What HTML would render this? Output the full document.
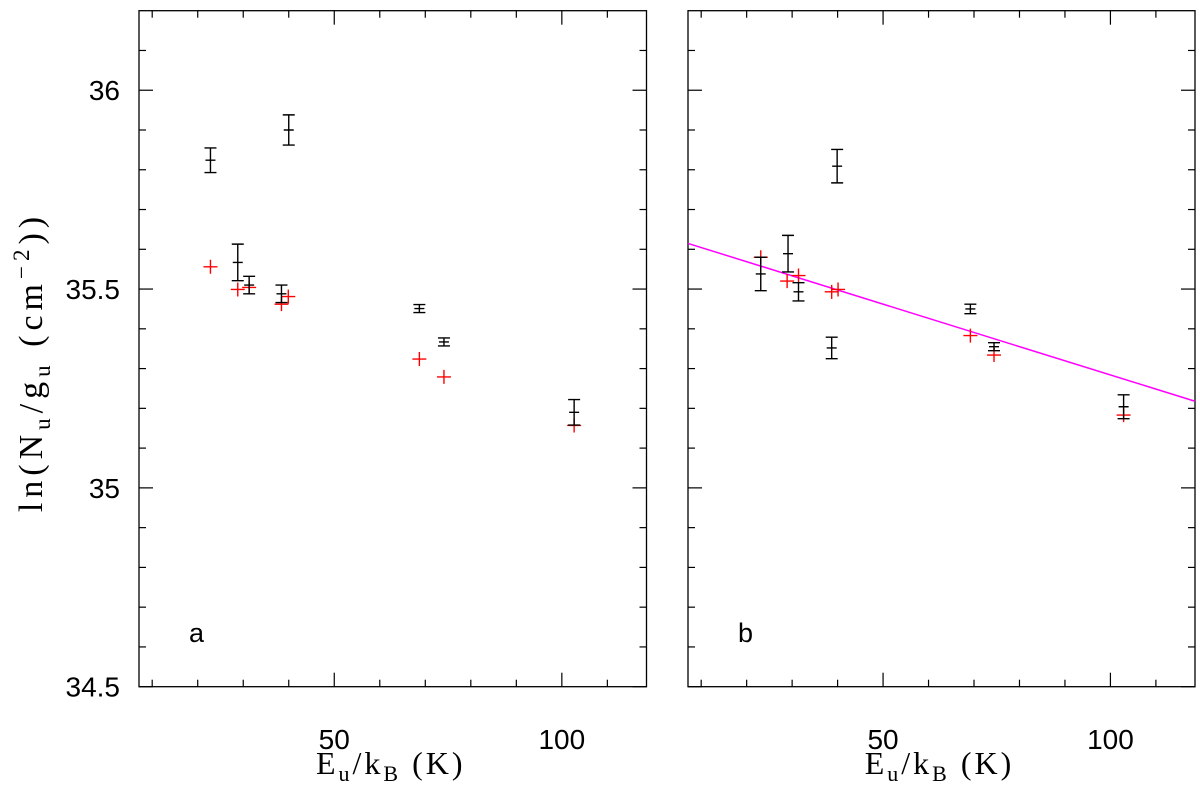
<!DOCTYPE html>
<html><head><meta charset="utf-8"><style>
html,body{margin:0;padding:0;background:#fff;}
svg{display:block;}
</style></head><body>
<svg id="chart" width="1200" height="785" viewBox="0 0 1200 785" xmlns="http://www.w3.org/2000/svg">
<text transform="translate(42,362) rotate(-90)" text-anchor="middle" font-family="Liberation Serif, serif" font-size="34" letter-spacing="5">ln(N<tspan font-size="23" dy="8">u</tspan><tspan dy="-8">/g</tspan><tspan font-size="23" dy="8">u</tspan><tspan dy="-8"> (cm</tspan><tspan font-size="23" dy="-13">−2</tspan><tspan dy="13">))</tspan></text>
</svg>
<script>
// Panel a data
const aBlackX = [22.8, 40.0, 28.8, 31.3, 38.4, 68.7, 74.1, 102.7];
const aBlackY = [35.824, 35.900, 35.567, 35.510, 35.488, 35.451, 35.367, 35.190];
const aBlackErr = [0.031, 0.038, 0.046, 0.022, 0.022, 0.010, 0.010, 0.032];
const aRedX = [22.8, 28.8, 31.3, 38.4, 39.9, 68.7, 74.1, 102.7];
const aRedY = [35.556, 35.499, 35.504, 35.462, 35.481, 35.324, 35.279, 35.157];
// Panel b data
const bBlackX = [23.1, 29.1, 31.4, 39.9, 38.7, 69.2, 74.4, 102.9];
const bBlackY = [35.538, 35.589, 35.493, 35.809, 35.352, 35.450, 35.355, 35.204];
const bBlackErr = [0.042, 0.046, 0.023, 0.042, 0.027, 0.012, 0.010, 0.030];
const bRedX = [23.1, 28.9, 31.4, 38.7, 40.1, 69.2, 74.4, 102.9];
const bRedY = [35.580, 35.520, 35.534, 35.493, 35.499, 35.383, 35.334, 35.183];
// Fit line (panel b): y = intercept + slope * x
const fitIntercept = 35.640;
const fitSlope = -0.00356;
// Axes
const xRange = [7.1, 118.6];
const yRange = [34.5, 36.2];
const xMajorTicks = [50, 100];
const xMinorTicks = [10, 20, 30, 40, 60, 70, 80, 90, 110];
const yMajorTicks = [34.5, 35, 35.5, 36];
const yMinorTicks = [34.6, 34.7, 34.8, 34.9, 35.1, 35.2, 35.3, 35.4, 35.6, 35.7, 35.8, 35.9, 36.1];
const yTickLabels = ["34.5", "35", "35.5", "36"];
const xTickLabels = ["50", "100"];

const NS = "http://www.w3.org/2000/svg";
const svg = document.getElementById("chart");
const TOP = 10.7, BOT = 686.7;
function mk(tag, attrs, parent) {
  const e = document.createElementNS(NS, tag);
  for (const k in attrs) e.setAttribute(k, attrs[k]);
  (parent || svg).appendChild(e);
  return e;
}
function yScale(v) { return BOT - (v - yRange[0]) / (yRange[1] - yRange[0]) * (BOT - TOP); }

function panel(name, L, R, bx, by, be, rx, ry, showYLabels, fit) {
  const g = mk("g", {});
  
  
  const xs = v => L + (v - xRange[0]) / (xRange[1] - xRange[0]) * (R - L);
  const frame = mk("rect", {x: L, y: TOP, width: R - L, height: BOT - TOP, fill: "none", stroke: "#000", "stroke-width": 1.3}, g);
  
  
  const ticks = mk("g", {stroke: "#000", "stroke-width": 1.2}, g);
  
  
  xMajorTicks.forEach(v => { const x = xs(v);
    mk("line", {x1: x, x2: x, y1: BOT, y2: BOT - 14}, ticks);
    mk("line", {x1: x, x2: x, y1: TOP, y2: TOP + 14}, ticks); });
  xMinorTicks.forEach(v => { const x = xs(v);
    mk("line", {x1: x, x2: x, y1: BOT, y2: BOT - 7}, ticks);
    mk("line", {x1: x, x2: x, y1: TOP, y2: TOP + 7}, ticks); });
  yMajorTicks.forEach(v => { const y = yScale(v);
    mk("line", {x1: L, x2: L + 14, y1: y, y2: y}, ticks);
    mk("line", {x1: R, x2: R - 14, y1: y, y2: y}, ticks); });
  yMinorTicks.forEach(v => { const y = yScale(v);
    mk("line", {x1: L, x2: L + 7, y1: y, y2: y}, ticks);
    mk("line", {x1: R, x2: R - 7, y1: y, y2: y}, ticks); });
  xMajorTicks.forEach((v, i) => {
    const t = mk("text", {x: xs(v), y: 749, "text-anchor": "middle", "font-family": "Liberation Sans, sans-serif", "font-size": 28}, g);
    
    
    t.textContent = xTickLabels[i];
  });
  if (showYLabels) yMajorTicks.forEach((v, i) => {
    const t = mk("text", {x: L - 19, y: yScale(v) + 10, "text-anchor": "end", "font-family": "Liberation Sans, sans-serif", "font-size": 28}, g);
    
    
    t.textContent = yTickLabels[i];
  });
  const xt = mk("text", {x: (L + R) / 2 - 2, y: 774, "text-anchor": "middle", "font-family": "Liberation Serif, serif", "font-size": 32, "letter-spacing": 3}, g);
  
  
  xt.innerHTML = 'E<tspan font-size="22" dy="7">u</tspan><tspan dy="-7">/k</tspan><tspan font-size="22" dy="7">B</tspan><tspan dy="-7"> (K)</tspan>';
  const pl = mk("text", {x: L + 50, y: 642, "font-family": "Liberation Sans, sans-serif", "font-size": 27}, g);
  
  
  pl.textContent = name;
  if (fit) {
    const fl = mk("line", {x1: L, x2: R, y1: yScale(fitIntercept + fitSlope * xRange[0]), y2: yScale(fitIntercept + fitSlope * xRange[1]), stroke: "#ff00ff", "stroke-width": 1.5}, g);
    
    
  }
  rx.forEach((v, i) => {
    const x = xs(v), y = yScale(ry[i]);
    const p = mk("path", {d: `M${x-7},${y}H${x+7}M${x},${y-7}V${y+7}`, stroke: "#ff0000", "stroke-width": 1.4, fill: "none"}, g);
    
    
  });
  bx.forEach((v, i) => {
    const x = xs(v), y = yScale(by[i]), y1 = yScale(by[i] + be[i]), y2 = yScale(by[i] - be[i]);
    const p = mk("path", {d: `M${x-5},${y}H${x+5}M${x},${y1}V${y2}M${x-6},${y1}H${x+6}M${x-6},${y2}H${x+6}`, stroke: "#000", "stroke-width": 1.4, fill: "none"}, g);
    
    
  });
}
panel("a", 139, 646.5, aBlackX, aBlackY, aBlackErr, aRedX, aRedY, true, false);
panel("b", 688, 1195, bBlackX, bBlackY, bBlackErr, bRedX, bRedY, false, true);
</script>
</body></html>
